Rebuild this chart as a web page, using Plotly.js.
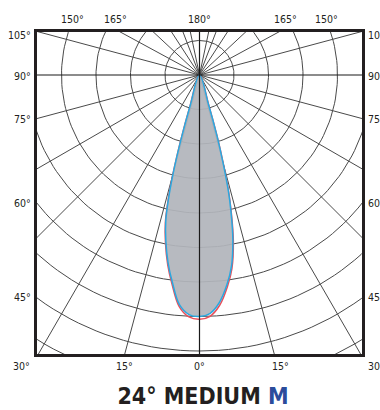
<!DOCTYPE html>
<html>
<head>
<meta charset="utf-8">
<script src="https://cdn.plot.ly/plotly-3.0.1.min.js"></script>
<style>html,body{margin:0;padding:0;background:#fff;}#chart{width:380px;height:410px;}</style>
</head>
<body>
<div id="chart"></div>
<script>
// ---- data ----
const ringRadii = [1, 2, 3, 4, 5, 6, 7, 8, 9, 10];
// spoke directions in degrees, 0 = straight down, clockwise
const spokeAngles = [15, 30, 45, 60, 75, 105, 118.5, 133, 147, 159, 168,
                     192, 201, 213, 227, 241.5, 255, 285, 300, 315, 330, 345];
const mainAngles = [0, 90, 180, 270];
const spokeLength = 12;

// beam angle in degrees (0 = straight down), negative = left side
const beamAngles = [-17.5, -17, -16, -15, -14, -13, -11.5, -9.5, -7.5, -5, -2.5, 0,
                    2.5, 5, 7.5, 9.5, 11.5, 13, 14, 15, 16, 17, 17.5];
const beamCyanR = [0, 0.9, 1.95, 2.95, 3.75, 4.35, 4.9, 5.52, 6.05, 6.68, 6.95, 7.0,
                   6.92, 6.62, 6.12, 5.62, 4.85, 4.05, 3.45, 2.65, 1.85, 0.9, 0];
const beamRedR = [0, 0.91, 1.97, 2.98, 3.79, 4.4, 4.95, 5.58, 6.11, 6.74, 7.02, 7.08,
                  7.0, 6.7, 6.19, 5.69, 4.92, 4.1, 3.49, 2.68, 1.87, 0.91, 0];

const topLabels = ['150°', '165°', '180°', '165°', '150°'];
const bottomLabels = ['30°', '15°', '0°', '15°', '30°'];
const leftLabels = ['105°', '90°', '75°', '60°', '45°'];
const rightLabels = ['105°', '90°', '75°', '60°', '45°', '30°'];
const titleMain = '24° MEDIUM ';
const titleTag = 'M';

// ---- helpers ----
const rad = d => d * Math.PI / 180;
const px = (r, a) => r * Math.sin(rad(a));
const py = (r, a) => -r * Math.cos(rad(a));

function spokesTrace(angles, color, width) {
  const x = [], y = [];
  angles.forEach(a => { x.push(0, px(spokeLength, a), null); y.push(0, py(spokeLength, a), null); });
  return {type: 'scatter', mode: 'lines', x, y, hoverinfo: 'skip', showlegend: false,
          line: {color, width}};
}
function ringsTrace() {
  const x = [], y = [];
  ringRadii.forEach(r => {
    for (let a = 0; a <= 360; a += 2) { x.push(px(r, a)); y.push(py(r, a)); }
    x.push(null); y.push(null);
  });
  return {type: 'scatter', mode: 'lines', x, y, hoverinfo: 'skip', showlegend: false,
          line: {color: '#4a4a4a', width: 1}};
}

const traces = [
  ringsTrace(),
  spokesTrace(spokeAngles, '#4a4a4a', 1),
  {type: 'scatter', mode: 'lines', showlegend: false, hoverinfo: 'skip',
   x: beamAngles.map((a, i) => px(beamRedR[i], a)),
   y: beamAngles.map((a, i) => py(beamRedR[i], a)),
   line: {color: '#e8505b', width: 1.5, shape: 'spline'}},
  {type: 'scatter', mode: 'lines', showlegend: false, hoverinfo: 'skip', fill: 'toself',
   fillcolor: 'rgba(178,181,187,0.93)',
   x: beamAngles.map((a, i) => px(beamCyanR[i], a)),
   y: beamAngles.map((a, i) => py(beamCyanR[i], a)),
   line: {color: '#2aa8e0', width: 1.5, shape: 'spline'}},
  spokesTrace(mainAngles, '#1a1a1a', 1.2)
];

// plot area in pixels
const L = 37, T = 32, W = 325, H = 322;
const unit = 34.5;
const cx = 199.5 - L, cy = 75 - T;
const xr = [-cx / unit, (W - cx) / unit];
const yr = [-(H - cy) / unit, cy / unit];

const fx = p => (p - L) / W;
const fy = p => 1 - (p - T) / H;
const fam = '"Liberation Sans Narrow", "DejaVu Sans Condensed", "Arial Narrow", sans-serif';
const tickFont = {family: fam, size: 10.5, color: '#231f20'};
const ann = [];
function lab(text, x, y, xanchor) {
  ann.push({text, x: fx(x), y: fy(y), xref: 'paper', yref: 'paper', showarrow: false,
            xanchor: xanchor || 'center', yanchor: 'middle', font: tickFont});
}
[72, 115, 200, 285, 326].forEach((x, i) => lab(topLabels[i], x, 19));
[21, 124, 200, 280].forEach((x, i) => lab(bottomLabels[i], x, 366));
[35, 76, 119, 203, 297].forEach((y, i) => lab(leftLabels[i], 33, y, 'right'));
[35, 76, 119, 203, 297, 366].forEach((y, i) => lab(rightLabels[i], 366, y, 'left'));

const layout = {
  width: 380, height: 410,
  margin: {l: L, r: 380 - L - W, t: T, b: 410 - T - H, pad: 0},
  paper_bgcolor: '#ffffff', plot_bgcolor: '#ffffff',
  showlegend: false,
  xaxis: {range: xr, showgrid: false, zeroline: false, showticklabels: false, ticks: '',
          showline: true, mirror: true, linecolor: '#231f20', linewidth: 3, fixedrange: true},
  yaxis: {range: yr, showgrid: false, zeroline: false, showticklabels: false, ticks: '',
          showline: true, mirror: true, linecolor: '#231f20', linewidth: 3, fixedrange: true},
  title: {text: '<b>' + titleMain + '<span style="color:#2b4c9b">' + titleTag + '</span></b>',
          x: 203 / 380, xanchor: 'center', y: 1 - 396 / 410, yanchor: 'middle', yref: 'container',
          font: {family: fam, size: 23, color: '#231f20'}},
  annotations: ann
};

Plotly.newPlot('chart', traces, layout, {displayModeBar: false, staticPlot: true});
</script>
</body>
</html>
